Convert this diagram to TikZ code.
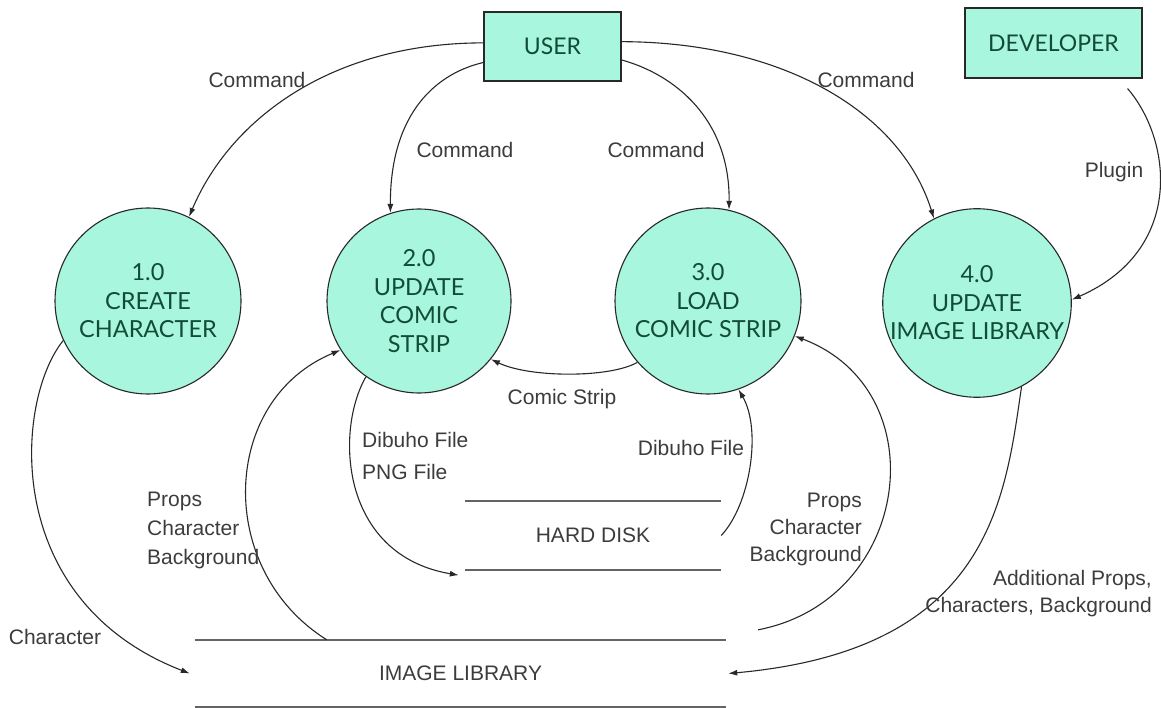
\documentclass[tikz,border=0pt]{standalone}
\usepackage{fontspec}
\setmainfont{Liberation Sans}
\newfontfamily\procfont{Lato}
\usetikzlibrary{arrows.meta,calc}

\definecolor{procfill}{RGB}{168,246,222}
\definecolor{proctext}{RGB}{18,76,54}
\definecolor{linec}{RGB}{40,40,40}
\definecolor{labelc}{RGB}{60,60,60}
\definecolor{storec}{RGB}{100,100,100}

\tikzset{
  proc/.style={circle, draw=linec, line width=1.1pt, fill=procfill, text=proctext,
    font=\procfont\fontsize{23.5}{28.5}\selectfont, align=center, inner sep=0pt},
  extern/.style={rectangle, draw=linec, line width=1.1pt, fill=procfill, text=proctext,
    font=\procfont\fontsize{23}{28}\selectfont, inner sep=0pt},
  flow/.style={draw=linec, line width=1.1pt, -{Latex[length=9pt,width=6pt]}},
  lbl/.style={text=labelc, font=\fontsize{21}{29}\selectfont, inner sep=0pt},
  store/.style={text=labelc, font=\fontsize{21}{29}\selectfont, inner sep=0pt},
  storeline/.style={draw=storec, line width=1.6pt}
}

\begin{document}
\begin{tikzpicture}[x=1pt,y=-1pt]
\path[use as bounding box] (0,0) rectangle (1161,708);

% external entities
\node[extern, minimum width=137pt, minimum height=69pt] (user) at (552.5,46.5) {USER};
\node[extern, minimum width=177pt, minimum height=70pt] (dev) at (1053.5,43) {DEVELOPER};

% processes
\node[proc, minimum size=186pt] (c1) at (148,301) {1.0\\CREATE\\CHARACTER};
\node[proc, minimum size=184pt] (c2) at (419,301) {2.0\\UPDATE\\COMIC\\STRIP};
\node[proc, minimum size=186pt] (c3) at (708,301) {3.0\\LOAD\\COMIC STRIP};
\node[proc, minimum size=188pt] (c4) at (977,303) {4.0\\UPDATE\\IMAGE LIBRARY};

% data stores
\node[store, minimum width=256pt, minimum height=69pt] (hd) at (593,535.5) {HARD DISK};
\node[store, minimum width=531pt, minimum height=67pt] (il) at (460.5,673.5) {IMAGE LIBRARY};
\draw[storeline] (hd.north west) -- (hd.north east);
\draw[storeline] (hd.south west) -- (hd.south east);
\draw[storeline] (il.north west) -- (il.north east);
\draw[storeline] (il.south west) -- (il.south east);

% commands from the user
\draw[flow] (user.177) .. controls (330,43) and (230,120) .. (c1.64);
\draw[flow] (user.193) .. controls (430,75) and (390,120) .. (c2.108);
\draw[flow] (user.-11) .. controls (676,75) and (730,120) .. (c3.77);
\draw[flow] (user.4) .. controls (780,42) and (900,110) .. (c4.117);

% plugin from the developer
\draw[flow] ([xshift=-15pt,yshift=-10pt]dev.south east) .. controls (1172,140) and (1185,250) .. (c4.2);

% comic strip from 3.0 to 2.0
\draw[flow] (c3.221) .. controls (610,378) and (530,378) .. (c2.-39);

% hard disk flows
\draw[flow] (c2.235) .. controls (335,430) and (340,555) .. ([xshift=-6pt,yshift=-5pt]hd.south west);
\draw[flow] (hd.east) .. controls (750,505) and (762,430) .. (c3.-71);

% image library flows
\draw[flow] (c1.205) .. controls (15,400) and (0,600) .. ([xshift=-5pt]il.west);
\draw[flow] ([xshift=132pt]il.north west) .. controls (215,570) and (220,400) .. (c2.212);
\draw[flow] ([xshift=32pt,yshift=10pt]il.north east) .. controls (912,600) and (938,390) .. (c3.-22);
\draw[flow] (c4.-62) .. controls (1005,500) and (990,650) .. ([xshift=2pt]il.east);

% flow labels
\node[lbl] (lcmd1) at (257,80) {Command};
\node[lbl] (lcmd2) at (465,150) {Command};
\node[lbl] (lcmd3) at (656,150) {Command};
\node[lbl] (lcmd4) at (866,80) {Command};
\node[lbl] (lplug) at (1114,172) {Plugin};
\node[lbl] (lcomic) at (562,399) {Comic Strip};
\node[lbl, align=left, anchor=west, font=\fontsize{21}{32}\selectfont] (lsave) at (362,456) {Dibuho File\\PNG File};
\node[lbl] (lload) at (691,448) {Dibuho File};
\node[lbl, align=left, anchor=west] (lprops2) at (147,530) {Props\\Character\\Background};
\node[lbl, align=right, anchor=east, font=\fontsize{21}{27}\selectfont] (lprops3) at (862,529) {Props\\Character\\Background};
\node[lbl, align=right, anchor=east, font=\fontsize{21}{27}\selectfont] (ladd) at (1152,593.5) {Additional Props,\\Characters, Background};
\node[lbl] (lchar) at (55,637) {Character};
\end{tikzpicture}
\end{document}
